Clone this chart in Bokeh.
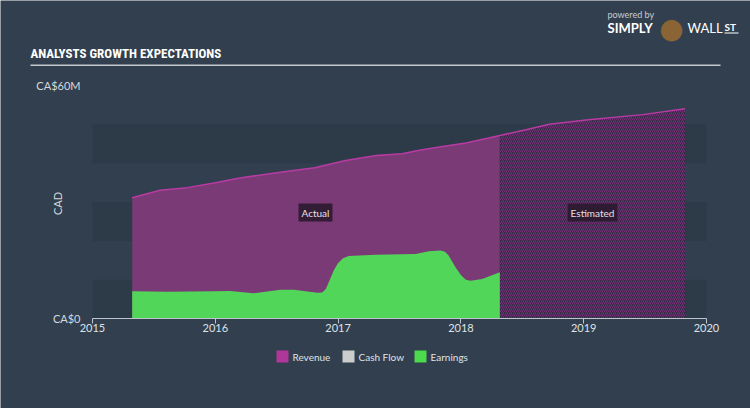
from bokeh.plotting import figure
from bokeh.models import FixedTicker, BoxAnnotation, Range1d
from bokeh.core.properties import value
from bokeh.embed import file_html
from bokeh.resources import INLINE

# ---------------- data (CA$ millions, decimal years) ----------------
rev_actual_x = [2015.323, 2015.55, 2015.77, 2015.99, 2016.20, 2016.40, 2016.59, 2016.81,
                2017.06, 2017.31, 2017.52, 2017.66, 2017.85, 2018.04, 2018.317]
rev_actual_y = [31.1, 33.0, 33.7, 34.9, 36.2, 37.1, 37.9, 38.8,
                40.7, 42.0, 42.4, 43.3, 44.3, 45.2, 47.1]

rev_est_x = [2018.317, 2018.53, 2018.72, 2019.04, 2019.48, 2019.825]
rev_est_y = [47.1, 48.6, 50.0, 51.2, 52.5, 54.0]

earn_x = [2015.323, 2015.61, 2015.99, 2016.12, 2016.31, 2016.53, 2016.64, 2016.83, 2016.87,
          2016.90, 2016.93, 2016.965, 2017.00, 2017.04, 2017.087, 2017.305, 2017.63, 2017.74,
          2017.834, 2017.87, 2017.90, 2017.956, 2018.00, 2018.04, 2018.078, 2018.173, 2018.317]
earn_y = [7.0, 6.9, 7.0, 7.1, 6.5, 7.4, 7.4, 6.6, 6.7,
          7.6, 9.8, 12.4, 14.3, 15.5, 16.1, 16.4, 16.6, 17.3,
          17.5, 17.2, 16.2, 13.2, 11.2, 10.0, 9.7, 10.2, 11.9]

year_ticks = [2015, 2016, 2017, 2018, 2019, 2020]
y_ticks = [0, 60]
y_tick_labels = {0: "CA$0", 60: "CA$60M"}
legend_names = ["Revenue", "Cash Flow", "Earnings"]
legend_colors = ["#b0379a", "#cccccc", "#4cd94c"]

# ---------------- layout constants ----------------
W, H = 750, 408
X0_PX, X1_PX = 92, 706     # canvas px of 2015 and 2020
Y0_PX, Y60_PX = 318, 85    # canvas px of 0 and 60M
PX_PER_YEAR = (X1_PX - X0_PX) / 5.0
PX_PER_M = (Y0_PX - Y60_PX) / 60.0
BG = "#323f4e"
BAND = "#2d3a48"
FONT = "Lato"
TITLE_FONT = "'Roboto Condensed', 'DejaVu Sans Condensed', 'Liberation Sans Narrow', sans-serif"
LEGEND_X = [276, 342, 414]   # canvas px of each legend swatch
LEGEND_Y = 356

def dx(cx):
    return 2015 + (cx - X0_PX) / PX_PER_YEAR

def dy(cy):
    return (Y0_PX - cy) / PX_PER_M

p = figure(width=W, height=H,
           x_range=Range1d(dx(0), dx(W)), y_range=Range1d(dy(H), dy(0)),
           output_backend="svg", toolbar_location=None,
           min_border=0, min_border_left=0, min_border_right=0,
           min_border_top=0, min_border_bottom=0,
           background_fill_color=BG, border_fill_color=BG, outline_line_color=None)
p.grid.visible = False

# horizontal bands
for lo, hi in [(0, 10), (20, 30), (40, 50)]:
    p.add_layout(BoxAnnotation(bottom=lo, top=hi, left=2015, right=2020,
                               fill_color=BAND, fill_alpha=1,
                               line_color=None, level="underlay"))

# revenue actual
p.varea(x=rev_actual_x, y1=[0] * len(rev_actual_x), y2=rev_actual_y,
        fill_color="#7a3a75", fill_alpha=1)
# revenue estimated (hatched)
p.varea(x=rev_est_x, y1=[0] * len(rev_est_x), y2=rev_est_y,
        fill_color="#322a45", fill_alpha=1,
        hatch_pattern="right_diagonal_line", hatch_color="#9a3090",
        hatch_alpha=0.7, hatch_weight=1, hatch_scale=4)
p.line(x=rev_actual_x + rev_est_x[1:], y=rev_actual_y + rev_est_y[1:],
       line_color="#b83ba3", line_width=1.5)
# earnings
p.varea(x=earn_x, y1=[0] * len(earn_x), y2=earn_y, fill_color="#52d65a", fill_alpha=1)

# ---------------- axes (fixed at the data origin) ----------------
xa = p.xaxis[0]
xa.fixed_location = 0
xa.ticker = FixedTicker(ticks=year_ticks)
xa.minor_tick_line_color = None
xa.axis_line_color = "#bfc5cc"
xa.major_tick_line_color = "#bfc5cc"
xa.major_tick_out = 5
xa.major_tick_in = 0
xa.major_label_standoff = 0
xa.major_label_text_font = FONT
xa.major_label_text_font_size = "11px"
xa.major_label_text_color = "#dfe3e7"
xa.bounds = (2015, 2020)

ya = p.yaxis[0]
ya.fixed_location = 2015
ya.ticker = FixedTicker(ticks=y_ticks)
ya.major_label_overrides = y_tick_labels
ya.axis_line_color = None
ya.major_tick_line_color = None
ya.minor_tick_line_color = None
ya.major_tick_out = 0
ya.major_tick_in = 0
ya.major_label_standoff = 12
ya.major_label_text_font = FONT
ya.major_label_text_font_size = "11px"
ya.major_label_text_color = "#d5d9dd"

# ---------------- texts ----------------
def lab(cx, cy, text, size, color, align="left", font=FONT, style="normal", angle=0, **kw):
    p.text(x=[dx(cx)], y=[dy(cy)], text=[text], text_font=value(font),
           text_font_size=size, text_color=color, text_align=align,
           text_baseline="middle", text_font_style=style, angle=angle, **kw)

def box(cx0, cx1, cy0, cy1, color):
    p.add_layout(BoxAnnotation(left=dx(cx0), right=dx(cx1), top=dy(cy0), bottom=dy(cy1),
                               fill_color=color, fill_alpha=1, line_color=None))

# legend
for name, col, lx in zip(legend_names, legend_colors, LEGEND_X):
    box(lx, lx + 12, LEGEND_Y - 6, LEGEND_Y + 6, col)
    lab(lx + 16, LEGEND_Y, name, "10px", "#dfe3e7")

lab(30, 53, "ANALYSTS GROWTH EXPECTATIONS", "13px", "#ffffff",
    font=TITLE_FONT, style="bold")
box(30, 720, 64, 65.5, "#c3c9cf")

lab(57, 203, "CAD", "11px", "#d5d9dd", align="center", angle=1.5708)

lab(315, 212, "Actual", "10px", "#e8e0e8", align="center",
    background_fill_color="#2b1a30", background_fill_alpha=0.9, padding=3)
lab(592, 212, "Estimated", "10px", "#e8e0e8", align="center",
    background_fill_color="#2a1a2e", background_fill_alpha=0.9, padding=3)

# logo
lab(607, 14, "powered by", "9px", "#c8ccd0")
lab(607, 27, "SIMPLY", "13px", "#ffffff", style="bold")
lab(671, 28, "\u25cf", "28px", "#8a6434", align="center", font="DejaVu Sans")
lab(687, 27, "WALL", "13px", "#ffffff")
lab(724, 26, "ST", "10px", "#ffffff", style="bold")
box(724, 738, 32, 33, "#ffffff")

open("out.html", "w").write(file_html(p, INLINE))
